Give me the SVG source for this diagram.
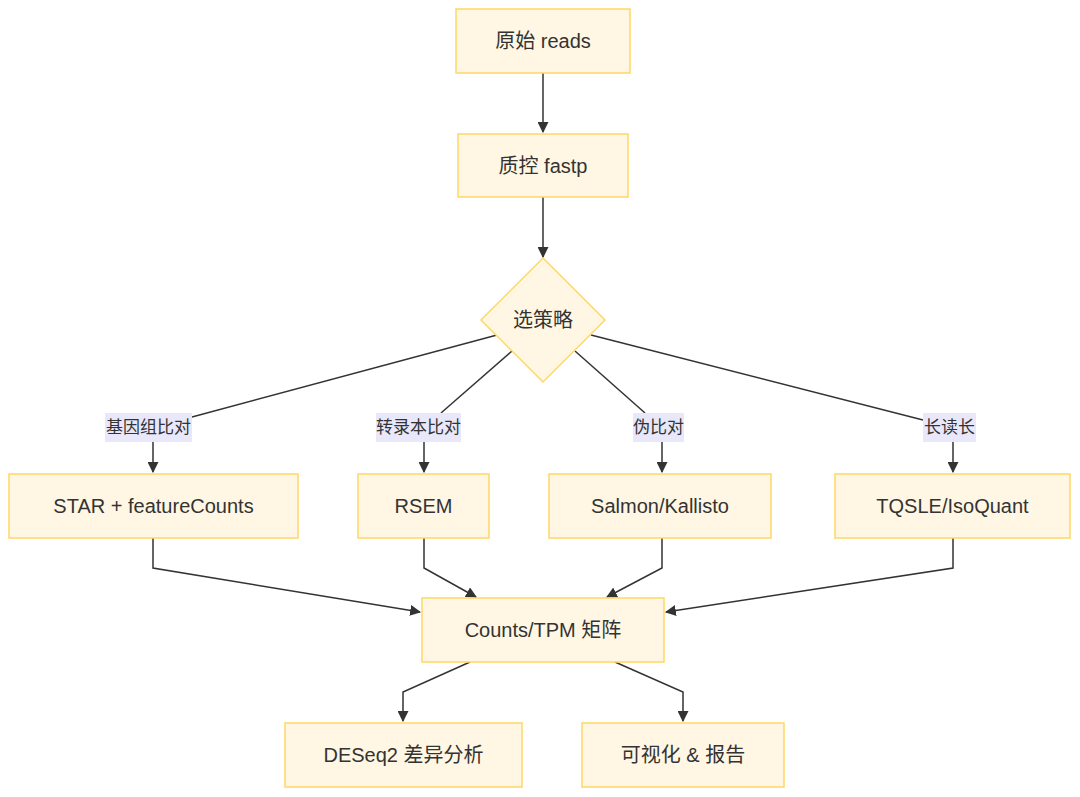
<svg xmlns="http://www.w3.org/2000/svg" width="1080" height="797" viewBox="0 0 1080 797">
<defs>
<style>
.n{fill:#FFF7E3;stroke:#FFD766;stroke-width:1.5}
.t{font-family:"Liberation Sans","Noto Sans CJK SC",sans-serif;font-size:20px;fill:#333;text-anchor:middle;dominant-baseline:central}
.lb{fill:#E8E8FA}
.lt{font-family:"Liberation Sans","Noto Sans CJK SC",sans-serif;font-size:17px;fill:#333;text-anchor:middle;dominant-baseline:central}
.e{fill:none;stroke:#333;stroke-width:1.5}
</style>
<marker id="ah" viewBox="0 0 10 10" refX="9" refY="5" markerWidth="11" markerHeight="11" markerUnits="userSpaceOnUse" orient="auto">
<path d="M0,0 L10,5 L0,10 z" fill="#333"/>
</marker>
</defs>
<rect width="1080" height="797" fill="#fff"/>
<g id="connectors">
<path class="e" d="M543,73 V132" marker-end="url(#ah)"/>
<path class="e" d="M543,197 V257" marker-end="url(#ah)"/>
<path class="e" d="M497,335 L192,417"/>
<path class="e" d="M153,442 V472" marker-end="url(#ah)"/>
<path class="e" d="M512,351 L441,413"/>
<path class="e" d="M424,442 V472" marker-end="url(#ah)"/>
<path class="e" d="M575,351 L645,413"/>
<path class="e" d="M662,442 V472" marker-end="url(#ah)"/>
<path class="e" d="M591,335 L923,420"/>
<path class="e" d="M953,442 V472" marker-end="url(#ah)"/>
<path class="e" d="M153,538 V568 L420,612" marker-end="url(#ah)"/>
<path class="e" d="M424,538 V568 L476,597" marker-end="url(#ah)"/>
<path class="e" d="M662,538 V568 L607,597" marker-end="url(#ah)"/>
<path class="e" d="M953,538 V568 L666,612" marker-end="url(#ah)"/>
<path class="e" d="M470,662 L403,692 V721" marker-end="url(#ah)"/>
<path class="e" d="M615,662 L683,692 V721" marker-end="url(#ah)"/>
</g>
<g id="lbl1"><rect class="lb" x="105" y="413" width="87" height="29"/><text class="lt" x="148.5" y="427.5">基因组比对</text></g>
<g id="lbl2"><rect class="lb" x="376" y="413" width="85" height="29"/><text class="lt" x="418.5" y="427.5">转录本比对</text></g>
<g id="lbl3"><rect class="lb" x="633" y="413" width="51" height="29"/><text class="lt" x="658.5" y="427.5">伪比对</text></g>
<g id="lbl4"><rect class="lb" x="923" y="413" width="53" height="29"/><text class="lt" x="949.5" y="427.5">长读长</text></g>
<g id="raw"><rect class="n" x="456" y="9" width="174" height="64"/><text class="t" x="543" y="41">原始 reads</text></g>
<g id="qc"><rect class="n" x="458" y="134" width="170" height="63"/><text class="t" x="543" y="165.5">质控 fastp</text></g>
<g id="choose"><polygon class="n" points="543,258 605,320 543,382 481,320"/><text class="t" x="543" y="320">选策略</text></g>
<g id="star"><rect class="n" x="9" y="474" width="289" height="64"/><text class="t" x="153.5" y="506">STAR + featureCounts</text></g>
<g id="rsem"><rect class="n" x="358" y="474" width="131" height="64"/><text class="t" x="423.5" y="506">RSEM</text></g>
<g id="salmon"><rect class="n" x="549" y="474" width="222" height="64"/><text class="t" x="660" y="506">Salmon/Kallisto</text></g>
<g id="tqsle"><rect class="n" x="835" y="474" width="235" height="64"/><text class="t" x="952.5" y="506">TQSLE/IsoQuant</text></g>
<g id="counts"><rect class="n" x="422" y="598" width="242" height="64"/><text class="t" x="543" y="630">Counts/TPM 矩阵</text></g>
<g id="deseq"><rect class="n" x="285" y="723" width="237" height="64"/><text class="t" x="403.5" y="755">DESeq2 差异分析</text></g>
<g id="viz"><rect class="n" x="582" y="723" width="202" height="64"/><text class="t" x="683" y="755">可视化 &amp; 报告</text></g>
</svg>
